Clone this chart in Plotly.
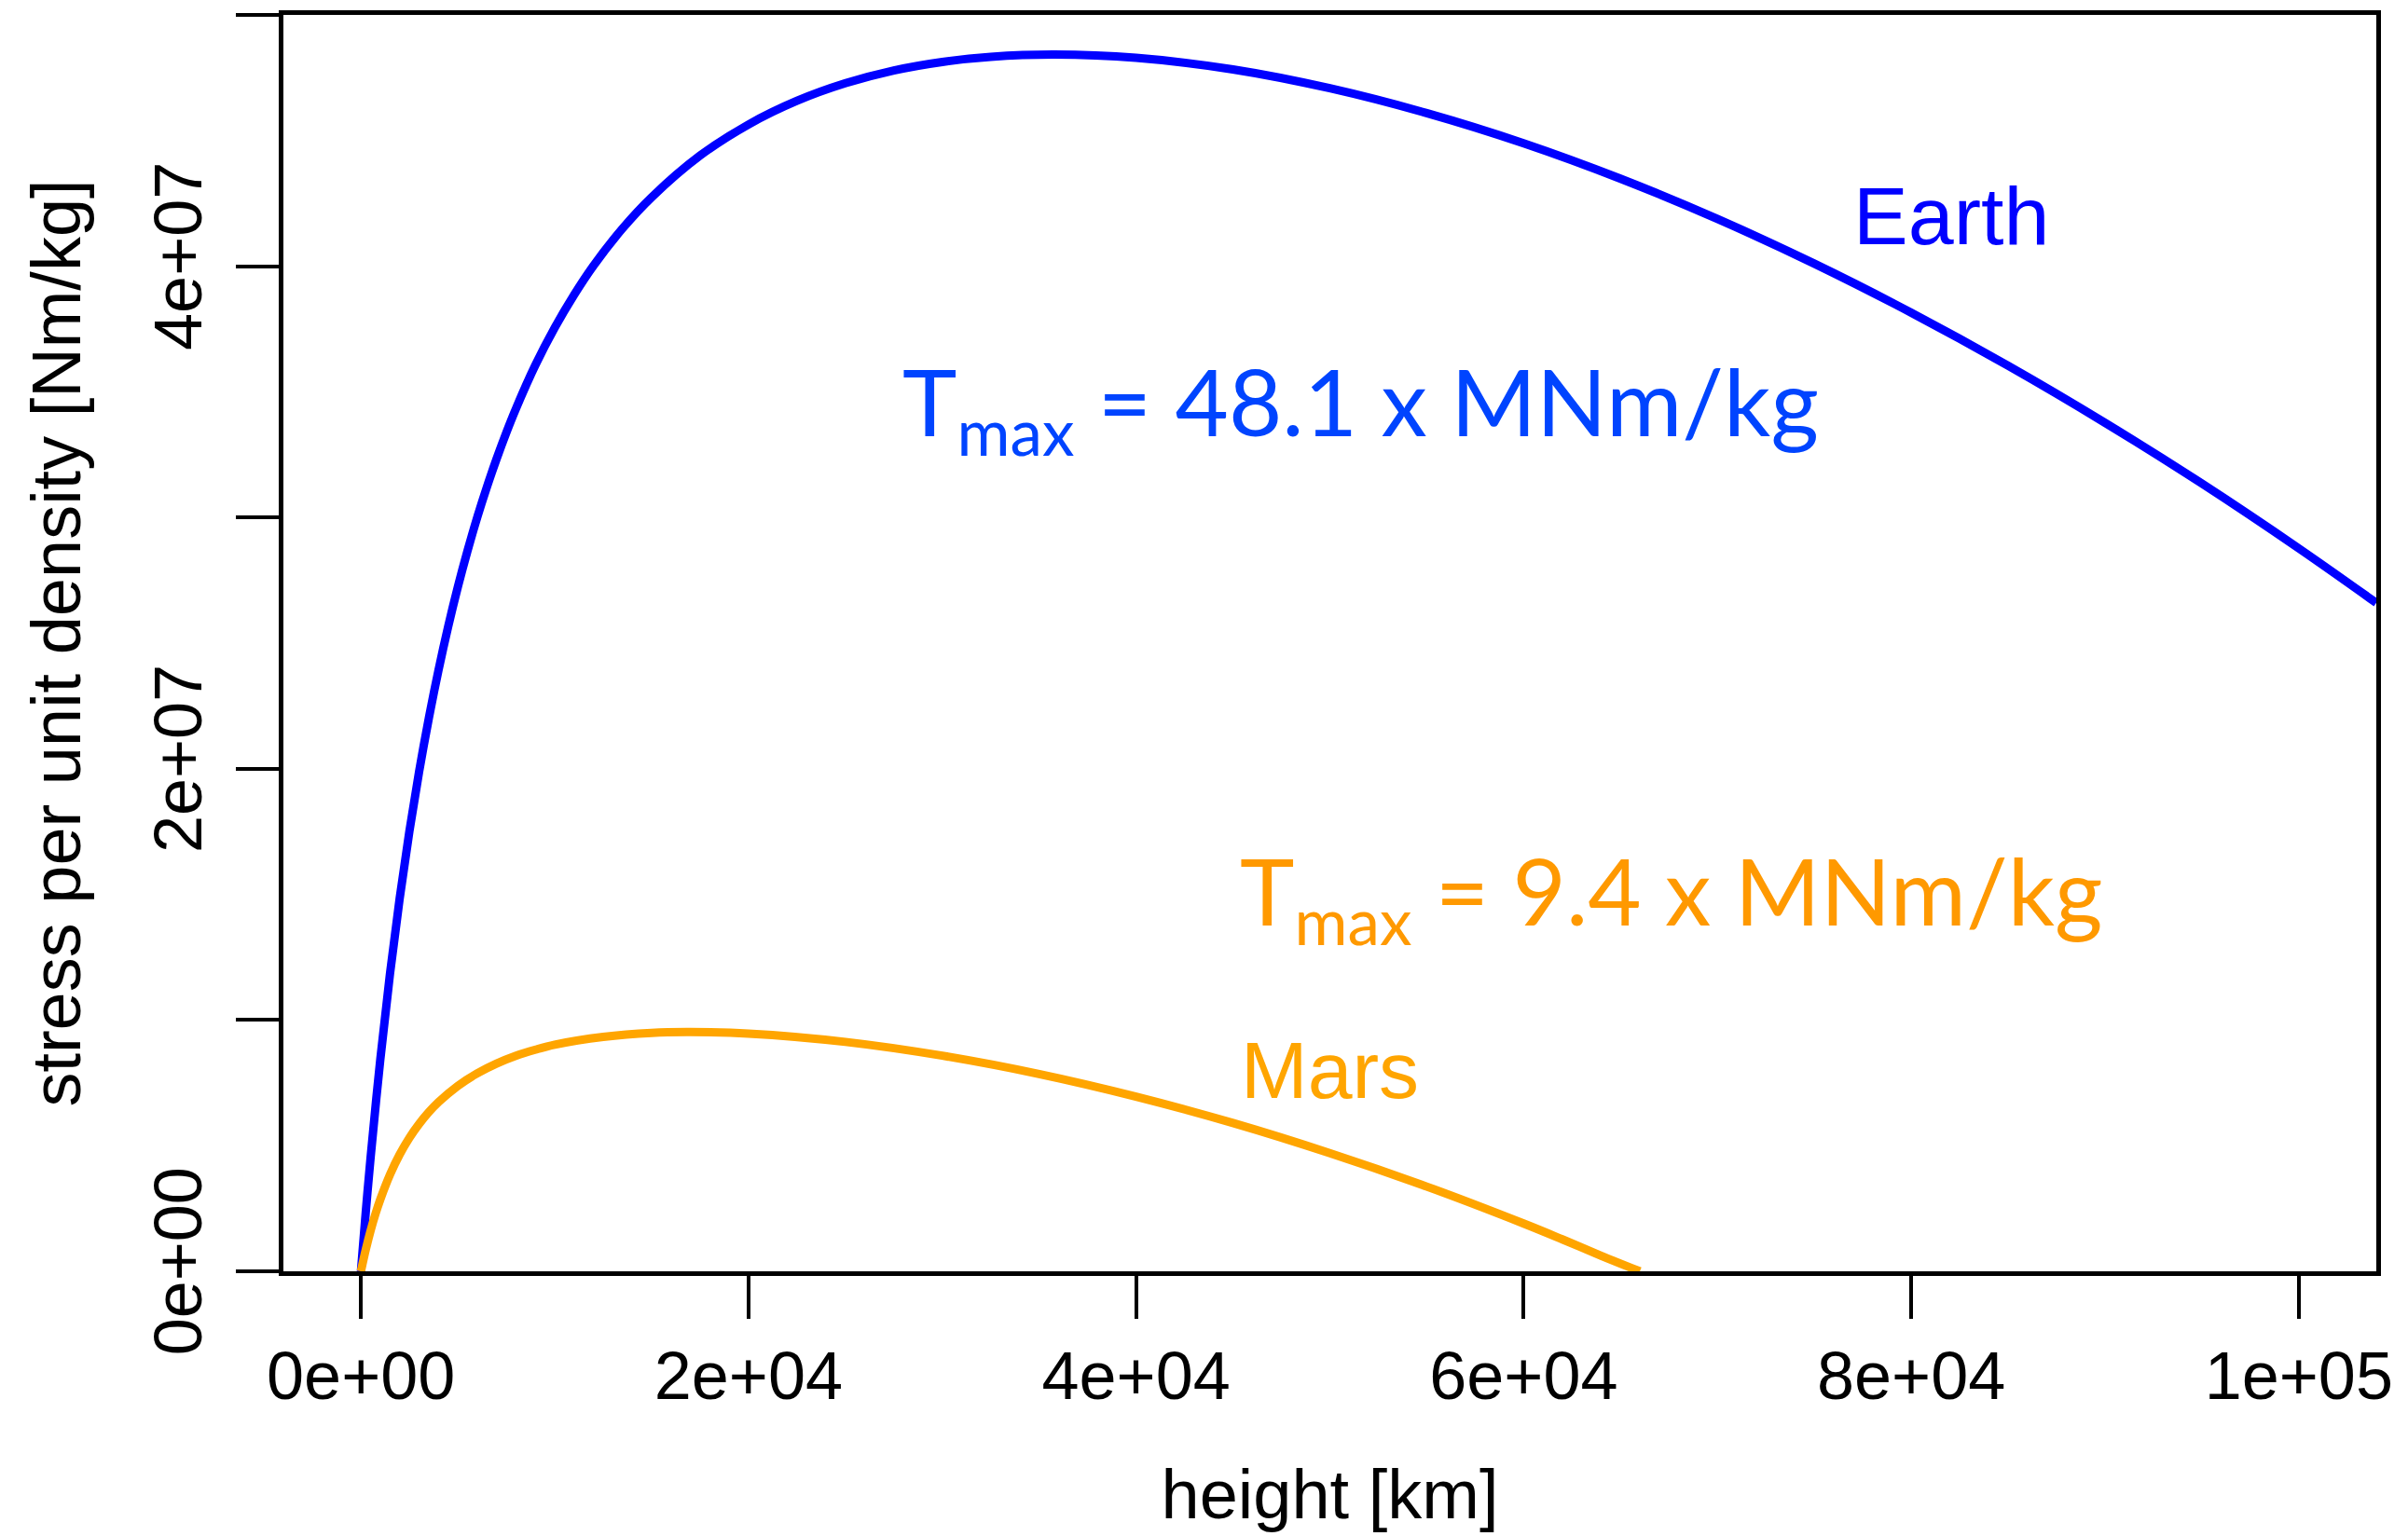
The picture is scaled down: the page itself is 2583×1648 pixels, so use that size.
import plotly.graph_objects as go

# ---- data ----
earth_height_km = [0, 250, 500, 1000, 1500, 2000, 2500, 3000, 3500, 4000, 4500, 5000, 5500,
                   6000, 6500, 7000, 7500, 8000, 9000, 10000, 11000, 12000, 13500, 15000,
                   17500, 20000, 22500, 25000, 27500, 30000, 32500, 35786, 40000, 45000,
                   50000, 55000, 60000, 65000, 70000, 75000, 80000, 85000, 90000, 95000,
                   100000, 104000]
earth_stress = [0, 2.35e6, 4.53e6, 8.43e6, 1.184e7, 1.484e7, 1.750e7, 1.987e7, 2.199e7,
                2.391e7, 2.565e7, 2.723e7, 2.867e7, 3.000e7, 3.121e7, 3.233e7, 3.337e7,
                3.433e7, 3.606e7, 3.755e7, 3.886e7, 4.002e7, 4.150e7, 4.274e7, 4.440e7,
                4.564e7, 4.658e7, 4.728e7, 4.779e7, 4.813e7, 4.833e7, 4.842e7, 4.829e7,
                4.783e7, 4.708e7, 4.609e7, 4.489e7, 4.348e7, 4.188e7, 4.010e7, 3.815e7,
                3.604e7, 3.377e7, 3.135e7, 2.877e7, 2.660e7]

mars_height_km = [0, 250, 500, 750, 1000, 1500, 2000, 2500, 3000, 3500, 4000, 5000, 6000,
                  7000, 8000, 9000, 10000, 12500, 15000, 17000, 20000, 25000, 30000, 35000,
                  40000, 45000, 50000, 55000, 60000, 62000, 64000, 66000]
mars_stress = [0, 8.6e5, 1.62e6, 2.28e6, 2.86e6, 3.85e6, 4.65e6, 5.31e6, 5.86e6, 6.33e6,
               6.73e6, 7.38e6, 7.88e6, 8.27e6, 8.58e6, 8.82e6, 9.02e6, 9.33e6, 9.49e6,
               9.52e6, 9.46e6, 9.13e6, 8.58e6, 7.85e6, 6.95e6, 5.90e6, 4.70e6, 3.37e6,
               1.90e6, 1.27e6, 6.2e5, 0]

x_tickvals = [0, 20000, 40000, 60000, 80000, 100000]
x_ticktext = ["0e+00", "2e+04", "4e+04", "6e+04", "8e+04", "1e+05"]
y_tickvals = [0, 2e7, 4e7]
y_ticktext = ["0e+00", "2e+07", "4e+07"]
y_minor_step = 1e7

labels = {
    "earth": "Earth",
    "mars": "Mars",
    "earth_tmax": "T<sub>max</sub> = 48.1 x MNm/kg",
    "mars_tmax": "T<sub>max</sub> = 9.4 x MNm/kg",
}

BLUE = "#0000FF"
ORANGE = "#FFA500"
SANS = "Liberation Sans, Arial, Helvetica, sans-serif"
HUMANIST = "Lato, Open Sans, sans-serif"

fig = go.Figure()
fig.add_trace(go.Scatter(x=earth_height_km, y=earth_stress, mode="lines",
                         line=dict(color=BLUE, width=9, shape="spline", smoothing=1.0),
                         name="Earth", showlegend=False, hoverinfo="skip"))
fig.add_trace(go.Scatter(x=mars_height_km, y=mars_stress, mode="lines",
                         line=dict(color=ORANGE, width=9, shape="spline", smoothing=1.0),
                         name="Mars", showlegend=False, hoverinfo="skip"))

fig.add_annotation(x=76900, y=4.2e7, text=labels["earth"], showarrow=False,
                   xanchor="left", yanchor="middle",
                   font=dict(family=SANS, size=88, color=BLUE))
fig.add_annotation(x=45300, y=8.0e6, text=labels["mars"], showarrow=False,
                   xanchor="left", yanchor="middle",
                   font=dict(family=SANS, size=86, color=ORANGE))
fig.add_annotation(x=27850, y=3.44e7, text=labels["earth_tmax"], showarrow=False,
                   xanchor="left", yanchor="middle",
                   font=dict(family=HUMANIST, size=99, color="#0044FF"))
fig.add_annotation(x=45260, y=1.49e7, text=labels["mars_tmax"], showarrow=False,
                   xanchor="left", yanchor="middle",
                   font=dict(family=HUMANIST, size=99, color="#FF9900"))

axis_common = dict(
    showline=True, linecolor="black", linewidth=4.5, mirror=True,
    ticks="outside", ticklen=46, tickwidth=3.5, tickcolor="black",
    showgrid=False, zeroline=False,
    tickfont=dict(family=SANS, size=72, color="black"),
)

fig.update_xaxes(range=[-4000, 104000], tickmode="array", tickvals=x_tickvals,
                 ticktext=x_ticktext,
                 title=dict(text="height [km]", font=dict(family=SANS, size=74, color="black"),
                            standoff=64),
                 **axis_common)
fig.update_yaxes(range=[0, 5e7], tickmode="array", tickvals=y_tickvals,
                 ticktext=y_ticktext, tickangle=-90, ticklabelstandoff=8,
                 minor=dict(ticks="outside", ticklen=46, tickwidth=3.5, tickcolor="black",
                            tick0=0, dtick=y_minor_step, showgrid=False),
                 title=dict(text="stress per unit density [Nm/kg]",
                            font=dict(family=SANS, size=74, color="black"), standoff=42),
                 **axis_common)

fig.update_layout(
    width=2583, height=1648,
    margin=dict(l=304, r=34, t=16, b=284, pad=0),
    plot_bgcolor="white", paper_bgcolor="white",
)

fig.write_html("out.html", config={"displayModeBar": False},
               post_script="document.body.style.margin='0';document.body.style.overflow='hidden';")
